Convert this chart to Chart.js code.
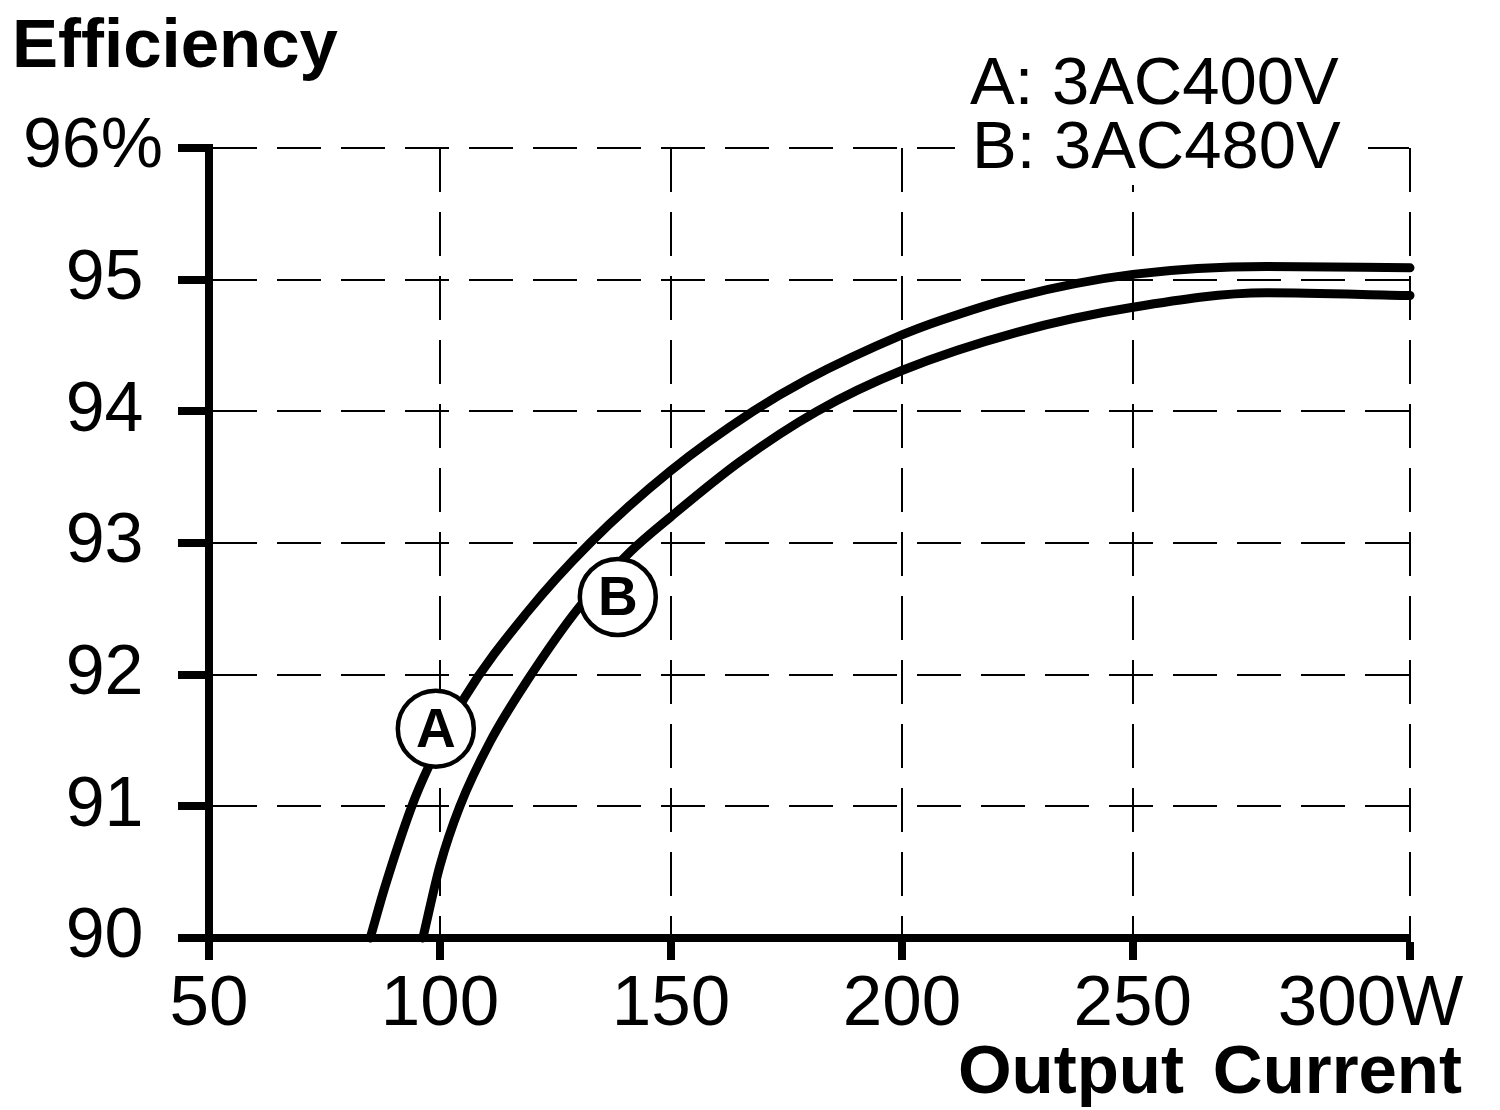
<!DOCTYPE html>
<html>
<head>
<meta charset="utf-8">
<title>Efficiency vs Output Current</title>
<script src="https://cdn.jsdelivr.net/npm/chart.js@4.4.1/dist/chart.umd.min.js"></script>
<style>
  html, body { margin: 0; padding: 0; background: #fff; }
  canvas { display: block; }
</style>
</head>
<body>
<canvas id="effChart" width="1500" height="1110"></canvas>
<script>
// curve A: 3AC400V
const effA_x = [84.9, 88.1, 93.9, 97.4, 105.4, 118.8, 132.5, 150, 167.8, 179.4, 200, 208.3, 224.9, 250, 279, 310];
const effA_y = [90, 90.39, 91, 91.29, 91.83, 92.47, 93, 93.55, 94, 94.24, 94.58, 94.69, 94.87, 95.04, 95.1, 95.09];

// curve B: 3AC480V
const effB_x = [96.3, 100, 104.3, 111, 118.8, 130.3, 141.1, 150, 165, 181.6, 200, 224.9, 250, 279, 310];
const effB_y = [90, 90.55, 91, 91.5, 91.95, 92.52, 92.93, 93.2, 93.62, 94, 94.31, 94.6, 94.79, 94.9, 94.88];

// ticks (the picture's last tick sits a bit past 300 on the drawn axis)
const xTickValues = [50, 100, 150, 200, 250, 310];
const xTickLabels = ["50", "100", "150", "200", "250", "300W"];
const yTickValues = [90, 91, 92, 93, 94, 95, 96];
const yTickLabels = ["90", "91", "92", "93", "94", "95", "96%"];

// circled curve tags
const markerLabels = ["A", "B"];
const markerX = [99.1, 138.5];
const markerY = [91.59, 92.59];

const legendLines = ["A: 3AC400V", "B: 3AC480V"];

const FONT = "'Liberation Sans', Arial, sans-serif";

const toPoints = (xs, ys) => xs.map((x, i) => ({ x: x, y: ys[i] }));

const textPlugin = {
  id: "textPlugin",
  afterDatasetsDraw(chart) {
    const ctx = chart.ctx;
    const xs = chart.scales.x;
    const ys = chart.scales.y;
    ctx.save();
    markerLabels.forEach((lbl, i) => {
      const cx = xs.getPixelForValue(markerX[i]);
      const cy = ys.getPixelForValue(markerY[i]);
      ctx.beginPath();
      ctx.arc(cx, cy, 38, 0, Math.PI * 2);
      ctx.fillStyle = "#fff";
      ctx.fill();
      ctx.lineWidth = 4.5;
      ctx.strokeStyle = "#000";
      ctx.stroke();
      ctx.fillStyle = "#000";
      ctx.font = "bold 55px " + FONT;
      ctx.textAlign = "center";
      ctx.textBaseline = "middle";
      ctx.fillText(lbl, cx, cy + 3);
    });
    ctx.restore();
  },
  afterDraw(chart) {
    const ctx = chart.ctx;
    ctx.save();
    ctx.fillStyle = "#000";
    ctx.textBaseline = "alphabetic";

    ctx.font = "bold 69px " + FONT;
    ctx.textAlign = "left";
    ctx.fillText("Efficiency", 12, 67);

    // legend sits on a white patch that breaks the top grid line
    ctx.fillStyle = "#fff";
    ctx.fillRect(955, 40, 413, 145);
    ctx.fillStyle = "#000";
    ctx.font = "67px " + FONT;
    ctx.fillText(legendLines[0], 970, 104);
    ctx.fillText(legendLines[1], 972, 168);

    ctx.font = "bold 69px " + FONT;
    ctx.textAlign = "right";
    ctx.fillText("Output", 1184, 1093);
    ctx.fillText("Current", 1462, 1093);
    ctx.restore();
  }
};

const config = {
  type: "line",
  data: {
    datasets: [
      {
        label: "A: 3AC400V",
        data: toPoints(effA_x, effA_y),
        borderColor: "#000",
        borderWidth: 9,
        borderCapStyle: "round",
        pointRadius: 0,
        fill: false,
        cubicInterpolationMode: "monotone",
        clip: false,
      },
      {
        label: "B: 3AC480V",
        data: toPoints(effB_x, effB_y),
        borderColor: "#000",
        borderWidth: 9,
        borderCapStyle: "round",
        pointRadius: 0,
        fill: false,
        cubicInterpolationMode: "monotone",
        clip: false,
      },
    ],
  },
  options: {
    responsive: false,
    devicePixelRatio: 1,
    animation: false,
    layout: {
      padding: { top: 148, right: 90, left: 0, bottom: 0 },
    },
    scales: {
      x: {
        type: "linear",
        min: 50,
        max: 310,
        afterBuildTicks: (scale) => {
          scale.ticks = xTickValues.map((v) => ({ value: v }));
        },
        afterFit: (scale) => {
          scale.height = 172;
          scale.paddingLeft = 0;
          scale.paddingRight = 0;
        },
        ticks: {
          autoSkip: false,
          maxRotation: 0,
          padding: 3,
          color: "#000",
          font: { family: FONT, size: 71 },
          callback: (value, index) => {
            const lbl = xTickLabels[index];
            // push the wide last label left, as in the picture
            return index === xTickLabels.length - 1 ? lbl + "    " : lbl;
          },
        },
        grid: {
          color: "#000",
          lineWidth: 2,
          tickLength: 22,
          tickWidth: 8,
          tickColor: "#000",
          tickBorderDash: [],
        },
        border: { display: true, color: "#000", width: 8, dash: [44, 20] },
      },
      y: {
        min: 90,
        max: 96,
        afterBuildTicks: (scale) => {
          scale.ticks = yTickValues.map((v) => ({ value: v }));
        },
        afterFit: (scale) => {
          scale.width = 209;
          scale.paddingTop = 0;
          scale.paddingBottom = 0;
        },
        ticks: {
          padding: 15,
          color: "#000",
          font: { family: FONT, size: 70 },
          callback: (value, index) => {
            const lbl = yTickLabels[index];
            return lbl.endsWith("%") ? lbl : lbl + " ";
          },
        },
        grid: {
          color: "#000",
          lineWidth: 2,
          tickLength: 31,
          tickWidth: 8,
          tickColor: "#000",
          tickBorderDash: [],
        },
        border: { display: true, color: "#000", width: 8, dash: [44, 20] },
      },
    },
    plugins: {
      legend: { display: false },
      tooltip: { enabled: false },
    },
  },
  plugins: [textPlugin],
};

const effChart = new Chart(document.getElementById("effChart"), config);
</script>
</body>
</html>
